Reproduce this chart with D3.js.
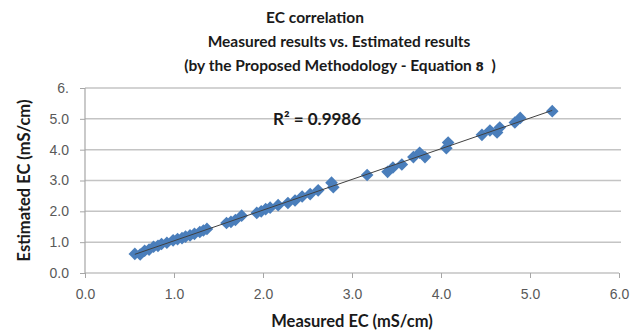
<!DOCTYPE html>
<html>
<head>
<meta charset="utf-8">
<script src="https://cdn.jsdelivr.net/npm/d3@7"></script>
<style>
	body { margin: 0; background: #fff; }
	svg { display: block; }
	.tick text { font-family: 'Liberation Sans', Arial, sans-serif; font-size: 14px; fill: #595959; }
	.ttl { font-family: Lato, 'Open Sans', sans-serif; font-weight: 700; fill: #1a1a1a; }
</style>
</head>
<body>
<svg width="642" height="332"></svg>
<script>
// EC correlation scatter

var measured = [0.56, 0.62, 0.67, 0.72, 0.77, 0.82, 0.86, 0.92, 0.99, 1.04, 1.09, 1.13, 1.18, 1.23, 1.29, 1.33, 1.37,
	1.59, 1.64, 1.69, 1.76, 1.93, 1.98, 2.03, 2.08, 2.17, 2.28, 2.36, 2.44, 2.53, 2.62, 2.77, 2.79,
	3.17, 3.40, 3.46, 3.56, 3.69, 3.76, 3.82, 4.06, 4.08, 4.46, 4.55, 4.63, 4.66, 4.83, 4.89, 5.25]
var estimated = [0.62, 0.60, 0.72, 0.76, 0.85, 0.88, 0.94, 0.98, 1.06, 1.10, 1.13, 1.18, 1.22, 1.27, 1.33, 1.38, 1.43,
	1.62, 1.66, 1.72, 1.86, 1.95, 2.00, 2.07, 2.12, 2.20, 2.27, 2.35, 2.48, 2.56, 2.68, 2.93, 2.78,
	3.18, 3.28, 3.42, 3.52, 3.76, 3.90, 3.76, 4.05, 4.23, 4.48, 4.62, 4.56, 4.72, 4.88, 5.03, 5.25]
var xTicks = [0, 1, 2, 3, 4, 5, 6]
var yTicks = [0, 1, 2, 3, 4, 5, 6]
var yTickLabels = ['0.0', '1.0', '2.0', '3.0', '4.0', '5.0', '6.']
var titleLines = ['EC correlation', 'Measured results vs. Estimated results', '(by the Proposed Methodology - Equation ']
var r2Label = 'R\u00B2 = 0.9986'

var svg = d3.select('svg')
// note: "top" is taken by window.top, so plot edges get a p prefix
var pLeft = 85, pRight = 619, pTop = 88, pBottom = 273

var x = d3.scaleLinear().domain([0, 6]).range([pLeft, pRight])
var y = d3.scaleLinear().domain([0, 6]).range([pBottom, pTop])

// gridlines
svg.append('g')
	.selectAll('line')
	.data(yTicks.slice(1))
	.enter()
	.append('line')
	.attr('x1', pLeft).attr('x2', pRight + 2)
	.attr('y1', function(d) { return y(d) }).attr('y2', function(d) { return y(d) })
	.attr('stroke', '#c4c4c4')
	.attr('stroke-width', 1.5)

var xAxis = svg.append('g')
	.attr('transform', 'translate(0,' + pBottom + ')')
	.call(d3.axisBottom(x).tickValues(xTicks).tickSize(5).tickPadding(11).tickFormat(d3.format('.1f')))
var yAxis = svg.append('g')
	.attr('transform', 'translate(' + pLeft + ',0)')
	.call(d3.axisLeft(y).tickValues(yTicks).tickSize(5).tickPadding(11).tickFormat(function(d, i) { return yTickLabels[i] }))
svg.selectAll('.domain').attr('stroke', '#a6a6a6').attr('stroke-width', 1.2)
svg.selectAll('.tick line').attr('stroke', '#a6a6a6')
xAxis.selectAll('.domain').attr('d', 'M' + pLeft + ',0H' + pRight)
yAxis.selectAll('.domain').attr('d', 'M0,' + pTop + 'V' + pBottom)

// points
var pts = measured.map(function(d, i) { return [d, estimated[i]] })
svg.append('g')
	.selectAll('path')
	.data(pts)
	.enter()
	.append('path')
	.attr('d', d3.symbol().type(d3.symbolSquare).size(80))
	.attr('transform', function(d) { return 'translate(' + x(d[0]) + ',' + y(d[1]) + ') rotate(45)' })
	.attr('fill', '#4a7ebb')

// linear trendline
var mx = d3.mean(measured), my = d3.mean(estimated)
var slope = d3.sum(pts, function(d) { return (d[0] - mx) * (d[1] - my) }) / d3.sum(measured, function(d) { return (d - mx) * (d - mx) })
var icpt = my - slope * mx
var ext = d3.extent(measured)
svg.append('line')
	.attr('x1', x(ext[0])).attr('y1', y(icpt + slope * ext[0]))
	.attr('x2', x(ext[1])).attr('y2', y(icpt + slope * ext[1]))
	.attr('stroke', '#404040')
	.attr('stroke-width', 1)

svg.append('text')
	.attr('class', 'ttl')
	.attr('x', 273).attr('y', 125)
	.style('font-size', '17px')
	.text(r2Label)

// titles
var titleX = [315, 339, 340]
var titles = svg.append('g')
	.selectAll('text')
	.data(titleLines)
	.enter()
	.append('text')
	.attr('class', 'ttl')
	.attr('x', function(d, i) { return titleX[i] })
	.attr('y', function(d, i) { return 23 + i * 24 })
	.attr('text-anchor', 'middle')
	.style('font-size', '15.5px')
	.text(function(d) { return d })
// equation number is set in a different, heavier face
var eq = titles.filter(function(d, i) { return i == 2 })
eq.append('tspan')
	.style('font-family', "'DejaVu Sans', sans-serif")
	.style('font-size', '12px')
	.style('font-weight', 700)
	.text('8')
eq.append('tspan')
	.text('\u00A0\u00A0)')

svg.append('text')
	.attr('class', 'ttl')
	.attr('x', (pLeft + pRight) / 2).attr('y', 327)
	.attr('text-anchor', 'middle')
	.style('font-size', '16.5px')
	.text('Measured EC (mS/cm)')

svg.append('text')
	.attr('class', 'ttl')
	.attr('transform', 'translate(30,' + (pTop + pBottom) / 2 + ') rotate(-90)')
	.attr('text-anchor', 'middle')
	.style('font-size', '16.5px')
	.text('Estimated EC (mS/cm)')
</script>
</body>
</html>
